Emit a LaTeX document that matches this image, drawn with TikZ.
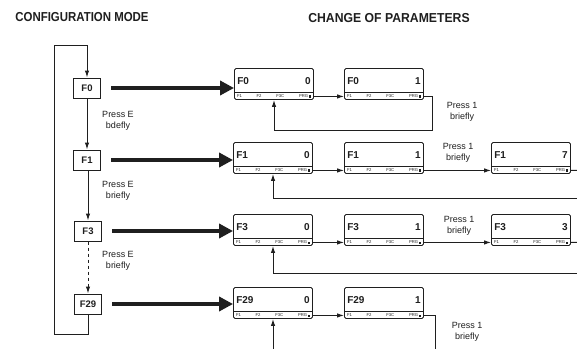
\documentclass[tikz,border=0pt]{standalone}
\usepackage{fontspec}
\setmainfont{Liberation Sans}
\usetikzlibrary{arrows.meta,calc}
\definecolor{ink}{gray}{0.12}
\tikzset{
 cfg/.style={draw=ink,line width=1pt,minimum width=27pt,minimum height=20pt,inner sep=2pt,font=\bfseries\fontsize{9.5}{9.5}\selectfont,text=ink},
 disp/.style={draw=ink,line width=0.9pt,rounded corners=1.5pt,minimum width=79pt,minimum height=31pt,inner sep=0pt},
 big/.style={line width=4.4pt,draw=ink,-{Triangle[length=14pt,width=14pt]},shorten <=10pt},
 conn/.style={draw=ink,line width=1pt,-{Latex[length=7pt,width=4.5pt]}},
 wire/.style={draw=ink,line width=1pt},
 lab/.style={align=center,font=\fontsize{9}{10.5}\selectfont,text=ink,inner sep=0pt},
 head/.style={font=\bfseries\fontsize{13}{13}\selectfont,text=ink,inner sep=0pt},
 dtxt/.style={font=\bfseries\fontsize{10}{10}\selectfont,text=ink,inner sep=0pt},
 strip/.style={font=\fontsize{4.2}{4.5}\selectfont,text=ink,inner sep=0pt},
}
\newcommand\dispbox[5]{%
 \node[disp] (#1) at (#2,#3) {};
 \node[dtxt,anchor=west] (#1l) at ([xshift=3pt,yshift=3pt]#1.west) {#4};
 \node[dtxt,anchor=east] (#1v) at ([xshift=-3pt,yshift=3pt]#1.east) {#5};
 \draw[wire,line width=0.7pt] ([yshift=7.5pt]#1.south west) -- ([yshift=7.5pt]#1.south east);
 \node[strip] (#1s) at ([yshift=3.7pt]#1.south) {\makebox[74pt]{F1\hfill F2\hfill F3C\hfill PRG\,\rule{2.2pt}{2.2pt}}};
}
\begin{document}
\begin{tikzpicture}[x=1pt,y=-1pt]
\useasboundingbox (0,0) rectangle (577,348);
\clip (0,0) rectangle (577,348);
\fill[white] (0,0) rectangle (577,348);

% headings
\node[head] (h1) at (82,17) {\scalebox{0.88}[1]{CONFIGURATION MODE}};
\node[head] (h2) at (389,18) {\scalebox{0.94}[1]{CHANGE OF PARAMETERS}};

% configuration boxes
\node[cfg] (F0) at (87,88) {F0};
\node[cfg] (F1) at (87,160) {F1};
\node[cfg] (F3) at (88,231) {F3};
\node[cfg] (F29) at (88,304) {F29};

\draw[conn] (F0.south) -- (F0.south |- F1.north);
\draw[conn] (F1.south) -- (F1.south -| F3.north) -- (F3.north);
\draw[conn,dashed] (F3.south) -- (F29.north);
\coordinate (lb) at (54,334);
\coordinate (lt) at (54,45);
\draw[conn] (F29.south) |- (lb) -- (lt) -| (F0.north);

\node[lab] (pe0) at (118,121) {Press E\\bdefly};
\node[lab] (pe1) at (118,191) {Press E\\briefly};
\node[lab] (pe3) at (118,261) {Press E\\briefly};

% display boxes
\dispbox{a0}{274}{84}{F0}{0}
\dispbox{b0}{384}{84}{F0}{1}
\dispbox{a1}{273}{158}{F1}{0}
\dispbox{b1}{384}{158}{F1}{1}
\dispbox{c1}{531}{158}{F1}{7}
\dispbox{a3}{273}{230}{F3}{0}
\dispbox{b3}{384}{230}{F3}{1}
\dispbox{c3}{531}{230}{F3}{3}
\dispbox{a29}{273}{303}{F29}{0}
\dispbox{b29}{384}{303}{F29}{1}

% thick arrows
\draw[big] (F0.east) -- (F0.east -| a0.west);
\draw[big] (F1.east) -- (F1.east -| a1.west);
\draw[big] (F3.east) -- (F3.east -| a3.west);
\draw[big] (F29.east) -- (F29.east -| a29.west);

% row F0
\draw[conn] ([yshift=3.5pt]a0.south east) -- ([yshift=3.5pt]b0.south west);
\coordinate (r0) at (432,130);
\draw[conn] ([yshift=3.5pt]b0.south east) -| (r0) -| (a0.south);
\node[lab] (p0) at (462,112) {Press 1\\briefly};

% row F1
\draw[conn] ([yshift=3.5pt]a1.south east) -- ([yshift=3.5pt]b1.south west);
\draw[conn] ([yshift=3.5pt]b1.south east) -- ([yshift=3.5pt]c1.south west);
\coordinate (e1) at (585,170);
\draw[wire] ([yshift=3.5pt]c1.south east) -- (e1 |- c1s);
\coordinate (r1) at (585,198);
\draw[conn] (r1) -| (a1.south);
\node[lab] (p1) at (458,153) {Press 1\\briefly};

% row F3
\draw[conn] ([yshift=3.5pt]a3.south east) -- ([yshift=3.5pt]b3.south west);
\draw[conn] ([yshift=3.5pt]b3.south east) -- ([yshift=3.5pt]c3.south west);
\coordinate (e3) at (585,242);
\draw[wire] ([yshift=3.5pt]c3.south east) -- (e3 |- c3s);
\coordinate (r3) at (585,273);
\draw[conn] (r3) -| (a3.south);
\node[lab] (p3) at (459,226) {Press 1\\briefly};

% row F29
\draw[conn] ([yshift=3.5pt]a29.south east) -- ([yshift=3.5pt]b29.south west);
\coordinate (r29) at (435,358);
\draw[conn] ([yshift=3.5pt]b29.south east) -| (r29) -| (a29.south);
\node[lab] (p29) at (467,332) {Press 1\\briefly};
\end{tikzpicture}
\end{document}
